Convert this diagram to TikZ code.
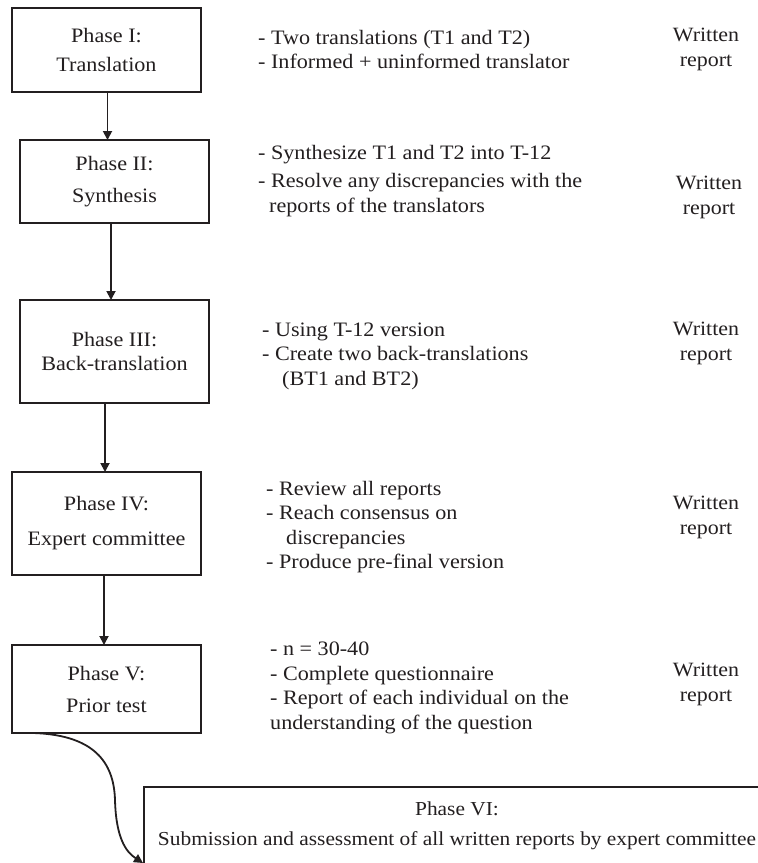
\documentclass[tikz,border=0pt]{standalone}
\usepackage{fontspec}
\setmainfont{Liberation Serif}[FakeStretch=1.08]
\usetikzlibrary{arrows.meta}
\definecolor{ink}{RGB}{35,31,32}
\begin{document}
\begin{tikzpicture}[x=1pt,y=-1pt,
  phase/.style={draw=ink, line width=1.2pt, inner sep=0pt, outer sep=0pt, align=center, text=ink},
  info/.style={anchor=west, align=left, inner sep=0pt, text=ink, font=\fontsize{20.5}{24.5}\selectfont},
  wr/.style={align=center, inner sep=0pt, text=ink, font=\fontsize{20.3}{25}\selectfont},
  flow/.style={draw=ink, line width=1.8pt, -{Triangle[width=9pt,length=9pt]}}]
\useasboundingbox (0,0) rectangle (758,863);
\clip (0,0) rectangle (758,863);
\fill[white] (0,0) rectangle (758,863);

% phase boxes
\node[phase, minimum width=189pt, minimum height=84pt, font=\fontsize{20.5}{29}\selectfont] (b1) at (106.5,50) {Phase I:\\Translation};
\node[phase, minimum width=189pt, minimum height=83pt, font=\fontsize{20.5}{32}\selectfont] (b2) at (114.5,181.5) {Phase II:\\Synthesis};
\node[phase, minimum width=189pt, minimum height=103pt, font=\fontsize{20.5}{24}\selectfont] (b3) at (114.5,351.5) {Phase III:\\Back-translation};
\node[phase, minimum width=189pt, minimum height=103pt, font=\fontsize{20.5}{35}\selectfont] (b4) at (106.5,523.5) {Phase IV:\\Expert committee};
\node[phase, minimum width=189pt, minimum height=88pt, font=\fontsize{20.5}{32}\selectfont] (b5) at (106.5,689) {Phase V:\\Prior test};
\node[phase, minimum width=626pt, minimum height=77pt, font=\fontsize{19.8}{30}\selectfont] (b6) at (457,825.5) {Phase VI:\\Submission and assessment of all written reports by expert committee};

% connectors
\draw[flow] ([xshift=1pt]b1.south) -- ([xshift=1pt]b1.south |- b2.north);
\draw[flow] ([xshift=-3.5pt]b2.south) -- ([xshift=-3.5pt]b2.south |- b3.north);
\draw[flow] ([xshift=-9.5pt]b3.south) -- ([xshift=-9.5pt]b3.south |- b4.north);
\draw[flow] ([xshift=-2.5pt]b4.south) -- ([xshift=-2.5pt]b4.south |- b5.north);
\coordinate (s5) at ([xshift=21pt]b5.south west);
\coordinate (e6) at ([xshift=-1pt,yshift=1pt]b6.south west);
\draw[flow] (s5) .. controls (100,735) and (114,768) .. (115,800) .. controls (116,838) and (126,852) .. (e6);

% descriptions
\node[info] (r1) at (258,49.5) {- Two translations (T1 and T2)\\- Informed + uninformed translator};
\node[info] (r2) at (258,181) {- Synthesize T1 and T2 into T-12\\[3.5pt]- Resolve any discrepancies with the\\\hspace*{11pt}reports of the translators};
\node[info] (r3) at (262,356) {- Using T-12 version\\- Create two back-translations\\\hspace*{20pt}(BT1 and BT2)};
\node[info] (r4) at (266,527) {- Review all reports\\- Reach consensus on\\\hspace*{20pt}discrepancies\\- Produce pre-final version};
\node[info] (r5) at (270,688) {- n = 30-40\\- Complete questionnaire\\- Report of each individual on the\\understanding of the question};

% written reports
\node[wr] (w1) at (706,49.5) {Written\\report};
\node[wr] (w2) at (709,197.5) {Written\\report};
\node[wr] (w3) at (706,343) {Written\\report};
\node[wr] (w4) at (706,517.5) {Written\\report};
\node[wr] (w5) at (706,684.5) {Written\\report};
\end{tikzpicture}
\end{document}
